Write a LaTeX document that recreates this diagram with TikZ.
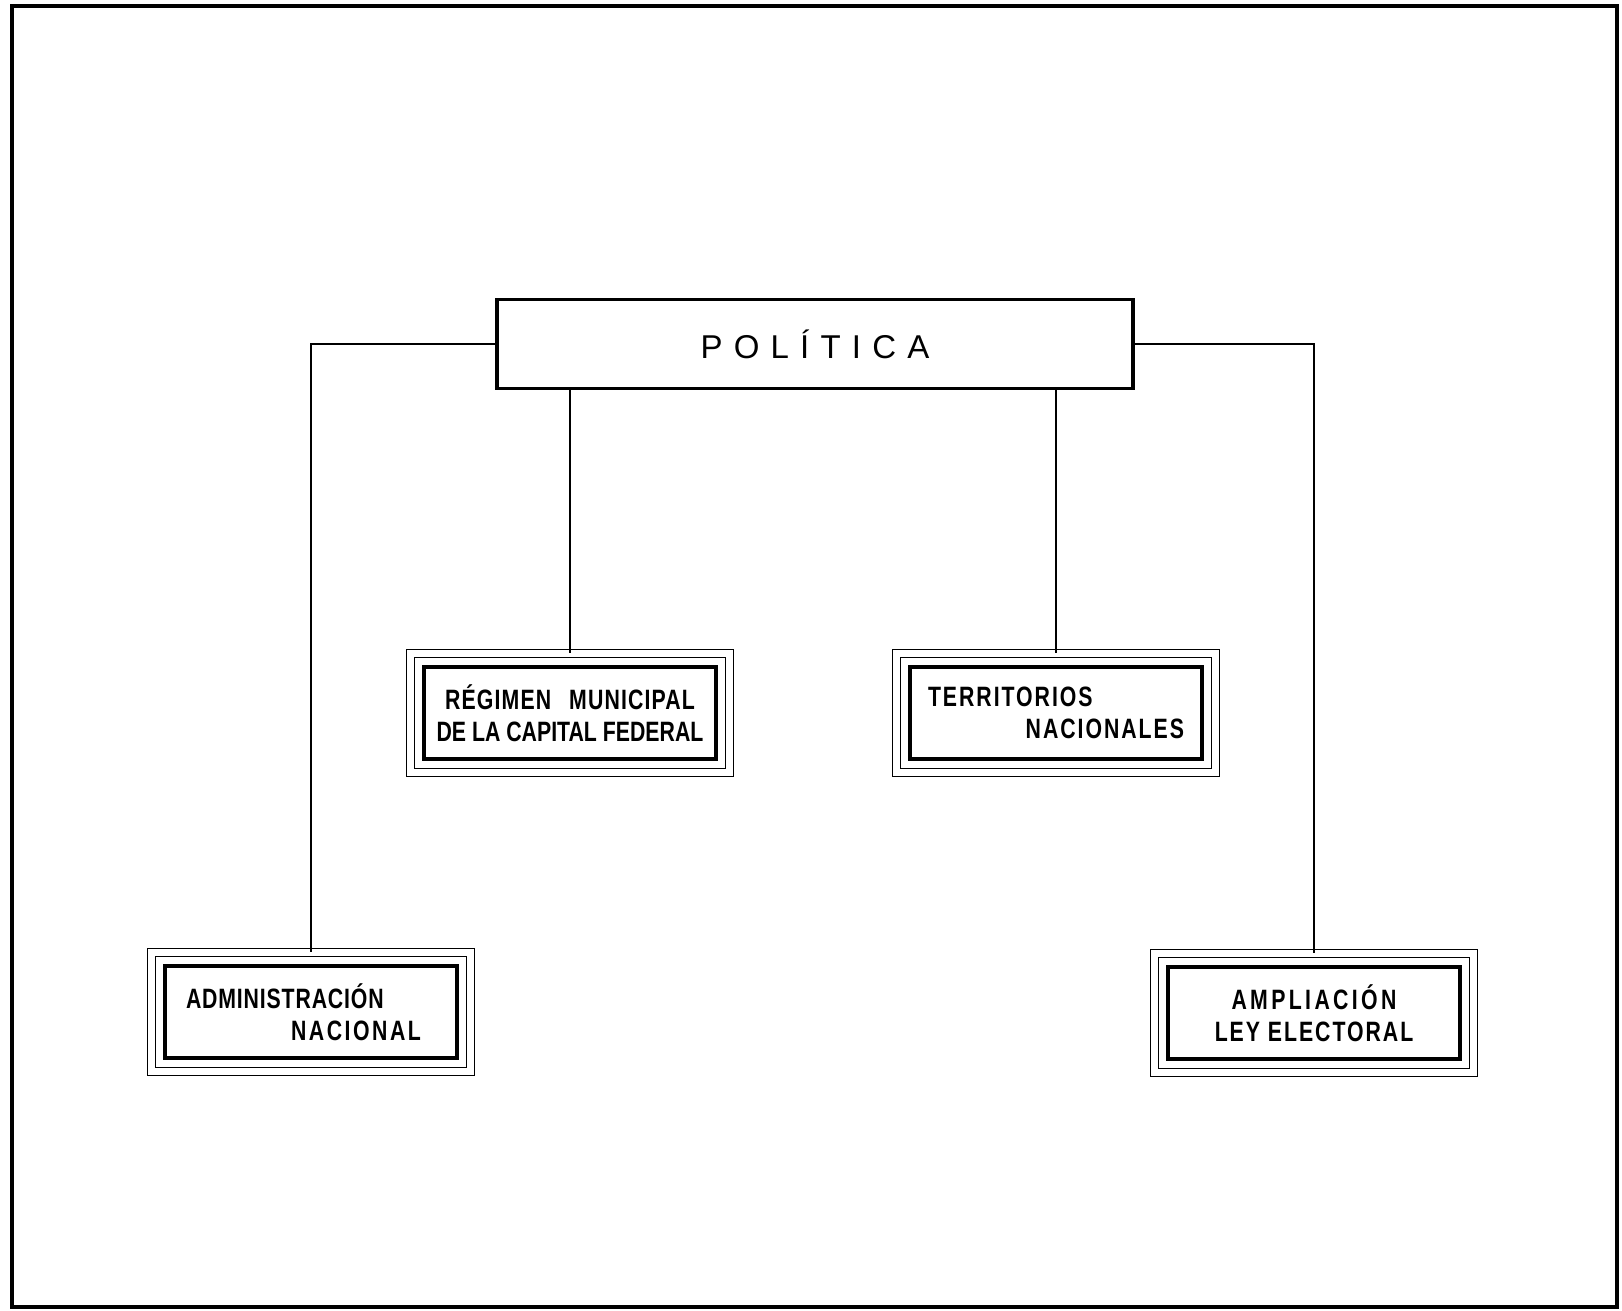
\documentclass[tikz,border=0pt]{standalone}
\usepackage{fontspec}
\setmainfont{Liberation Sans}
\newfontfamily\cajafont[FakeStretch=0.76]{Liberation Sans}
\newfontfamily\titfont[LetterSpace=34]{Liberation Sans}
\usetikzlibrary{fit}
\tikzset{titulo/.style={
    draw, line width=3.5pt, inner sep=0pt,
    minimum width=636pt, minimum height=89pt,
    font=\titfont\fontsize{33}{38}\selectfont}}
\tikzset{caja/.style={
    draw, line width=3.5pt, inner sep=0pt,
    minimum width=292pt, minimum height=92pt,
    font=\cajafont\bfseries\fontsize{28}{32}\selectfont}}
\tikzset{marco/.style={
    draw, double, line width=1.2pt, double distance=7pt,
    inner sep=12pt}}
\tikzset{linea/.style={
    line width=2.5pt}}

\begin{document}
\begin{tikzpicture}[x=1pt,y=-1pt]
\useasboundingbox (0,0) rectangle (1622,1311);
  % marco exterior
\draw[line width=4pt] (12,6) rectangle (1617,1307);

  % titulo
  \node[titulo] (pol) at (815,344) {POLÍTICA};

  % cajas
  \node[caja, align=center] (reg) at (570,713)
    {{\addfontfeature{LetterSpace=4}RÉGIMEN\hspace{18pt}MUNICIPAL}\\DE LA CAPITAL FEDERAL};
  \node[caja, align=left, text width=256pt] (ter) at (1056,713)
    {{\addfontfeature{LetterSpace=7}TERRITORIOS}\\\hspace*{\fill}{\addfontfeature{LetterSpace=7}NACIONALES}};
  \node[caja, align=left, text width=250pt] (adm) at (311,1012)
    {{\addfontfeature{LetterSpace=3}ADMINISTRACIÓN}\\\hspace*{\fill}{\addfontfeature{LetterSpace=9}NACIONAL}\rule{15pt}{0pt}};
  \node[caja, align=center] (amp) at (1314,1013)
    {{\addfontfeature{LetterSpace=12}AMPLIACIÓN}\\{\addfontfeature{LetterSpace=7}LEY ELECTORAL}};

  % marcos dobles
  \node[marco, fit=(reg)] (reg-m) {};
  \node[marco, fit=(ter)] (ter-m) {};
  \node[marco, fit=(adm)] (adm-m) {};
  \node[marco, fit=(amp)] (amp-m) {};

  % conexiones
  \draw[linea] (pol.west) -| (adm-m.north);
  \draw[linea] (pol.east) -| (amp-m.north);
  \draw[linea] (reg-m.north) -- (reg-m.north |- pol.south);
  \draw[linea] (ter-m.north) -- (ter-m.north |- pol.south);
\end{tikzpicture}
\end{document}
